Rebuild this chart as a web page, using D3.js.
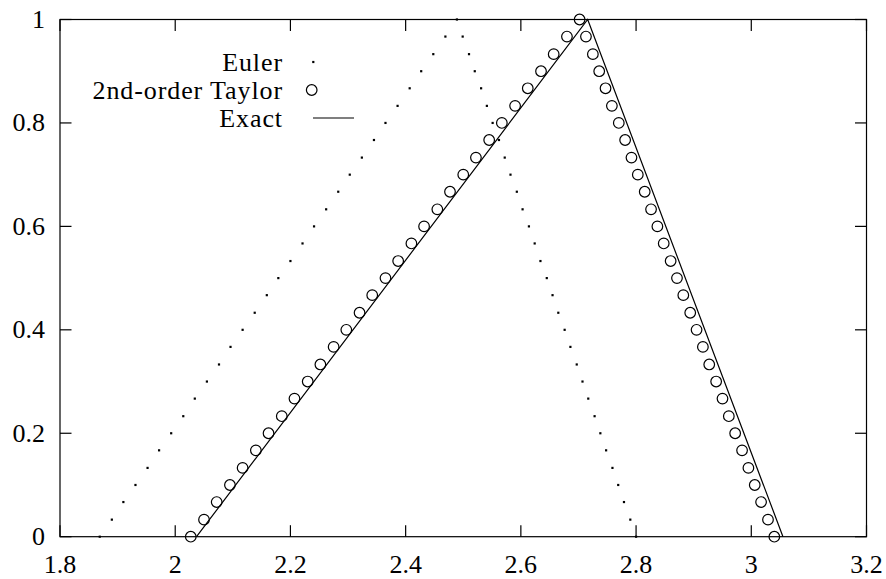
<!DOCTYPE html>
<html><head><meta charset="utf-8">
<script src="https://cdn.jsdelivr.net/npm/d3@7"></script>
<style>
html,body{margin:0;padding:0;background:#fff;}
</style></head>
<body>
<svg id="chart" width="886" height="579"></svg>
<script>
// ---- data ----
const xTicks = [1.8, 2, 2.2, 2.4, 2.6, 2.8, 3, 3.2];
const xTickLabels = ["1.8", "2", "2.2", "2.4", "2.6", "2.8", "3", "3.2"];
const yTicks = [0, 0.2, 0.4, 0.6, 0.8, 1];
const yTickLabels = ["0", "0.2", "0.4", "0.6", "0.8", "1"];
const legendLabels = ["Euler", "2nd-order Taylor", "Exact"];

// Euler method points (x values, y values)
const eulerX = [1.869,1.890,1.910,1.931,1.952,1.972,1.993,2.014,2.034,2.055,2.076,2.096,2.117,2.138,2.159,2.179,2.200,2.221,2.241,2.262,2.283,2.303,2.324,2.345,2.365,2.386,2.407,2.427,2.448,2.469,2.489,
  2.499,2.510,2.520,2.531,2.541,2.551,2.562,2.572,2.582,2.593,2.603,2.614,2.624,2.634,2.645,2.655,2.665,2.676,2.686,2.697,2.707,2.717,2.728,2.738,2.748,2.759,2.769,2.779,2.790,2.800];
const eulerY = [0,0.033,0.067,0.1,0.133,0.167,0.2,0.233,0.267,0.3,0.333,0.367,0.4,0.433,0.467,0.5,0.533,0.567,0.6,0.633,0.667,0.7,0.733,0.767,0.8,0.833,0.867,0.9,0.933,0.967,1,
  0.967,0.933,0.9,0.867,0.833,0.8,0.767,0.733,0.7,0.667,0.633,0.6,0.567,0.533,0.5,0.467,0.433,0.4,0.367,0.333,0.3,0.267,0.233,0.2,0.167,0.133,0.1,0.067,0.033,0];

// 2nd-order Taylor points
const taylorX = [2.027,2.050,2.072,2.095,2.117,2.140,2.162,2.185,2.207,2.230,2.252,2.275,2.297,2.320,2.342,2.365,2.387,2.410,2.432,2.455,2.477,2.500,2.522,2.545,2.567,2.590,2.612,2.635,2.657,2.680,2.702,
  2.713,2.725,2.736,2.747,2.758,2.770,2.781,2.792,2.803,2.815,2.826,2.837,2.848,2.860,2.871,2.882,2.894,2.905,2.916,2.927,2.939,2.950,2.961,2.972,2.984,2.995,3.006,3.017,3.029,3.040];
const taylorY = [0,0.033,0.067,0.1,0.133,0.167,0.2,0.233,0.267,0.3,0.333,0.367,0.4,0.433,0.467,0.5,0.533,0.567,0.6,0.633,0.667,0.7,0.733,0.767,0.8,0.833,0.867,0.9,0.933,0.967,1,
  0.967,0.933,0.9,0.867,0.833,0.8,0.767,0.733,0.7,0.667,0.633,0.6,0.567,0.533,0.5,0.467,0.433,0.4,0.367,0.333,0.3,0.267,0.233,0.2,0.167,0.133,0.1,0.067,0.033,0];

// Exact solution
const exactX = [2.037, 2.716, 3.055];
const exactY = [0, 1, 0];

// ---- layout ----
const FONT = "'Liberation Serif'";
const svg = d3.select("#chart");
const L = 60, R = 866.5, T = 19.5, B = 536.7;
const x = d3.scaleLinear().domain([1.8, 3.2]).range([L, R]);
const y = d3.scaleLinear().domain([0, 1]).range([B, T]);
const FS = 26;

// frame
svg.append("rect").attr("x", L).attr("y", T).attr("width", R - L).attr("height", B - T)
  .attr("fill", "none").attr("stroke", "#000").attr("stroke-width", 1.2);

const tickLen = 11.5;
// x ticks (bottom & top, inward)
xTicks.forEach((v, i) => {
  const px = x(v);
  svg.append("line").attr("x1", px).attr("x2", px).attr("y1", B).attr("y2", B - tickLen).attr("stroke", "#000").attr("stroke-width", 1.2);
  svg.append("line").attr("x1", px).attr("x2", px).attr("y1", T).attr("y2", T + tickLen).attr("stroke", "#000").attr("stroke-width", 1.2);
  svg.append("text").attr("x", px).attr("y", 573).attr("text-anchor", "middle")
    .style("font-family", FONT).attr("font-size", FS).attr("fill", "#000").text(xTickLabels[i]);
});
// y ticks (left & right, inward)
yTicks.forEach((v, i) => {
  const py = y(v);
  svg.append("line").attr("x1", L).attr("x2", L + tickLen).attr("y1", py).attr("y2", py).attr("stroke", "#000").attr("stroke-width", 1.2);
  svg.append("line").attr("x1", R).attr("x2", R - tickLen).attr("y1", py).attr("y2", py).attr("stroke", "#000").attr("stroke-width", 1.2);
  svg.append("text").attr("x", 45).attr("y", py + 8.5).attr("text-anchor", "end")
    .style("font-family", FONT).attr("font-size", FS).attr("fill", "#000").text(yTickLabels[i]);
});

// exact line
const exactData = exactX.map((v, i) => [v, exactY[i]]);
svg.append("path").datum(exactData)
  .attr("d", d3.line().x(d => x(d[0])).y(d => y(d[1])))
  .attr("fill", "none").attr("stroke", "#000").attr("stroke-width", 1.2);

// Taylor circles
const taylorData = taylorX.map((v, i) => [v, taylorY[i]]);
svg.append("g").selectAll("circle").data(taylorData).join("circle")
  .attr("cx", d => x(d[0])).attr("cy", d => y(d[1])).attr("r", 5.3)
  .attr("fill", "none").attr("stroke", "#000").attr("stroke-width", 1.2);

// Euler dots
const eulerData = eulerX.map((v, i) => [v, eulerY[i]]);
svg.append("g").selectAll("rect").data(eulerData).join("rect")
  .attr("x", d => x(d[0]) - 1.1).attr("y", d => y(d[1]) - 1.1).attr("width", 2.2).attr("height", 2.2)
  .attr("fill", "#000");

// legend
const lgX = 283, lgY0 = 62, lgDY = 28;
legendLabels.forEach((lab, i) => {
  svg.append("text").attr("x", lgX).attr("y", lgY0 + i * lgDY + 8.5).attr("text-anchor", "end")
    .style("font-family", FONT).style("letter-spacing", "0.9px").attr("font-size", FS).attr("fill", "#000").text(lab);
});
svg.append("rect").attr("x", 313.3 - 1.1).attr("y", lgY0 - 1.1).attr("width", 2.2).attr("height", 2.2).attr("fill", "#000");
svg.append("circle").attr("cx", 311.7).attr("cy", lgY0 + lgDY).attr("r", 5.3).attr("fill", "none").attr("stroke", "#000").attr("stroke-width", 1.2);
svg.append("line").attr("x1", 313).attr("x2", 354).attr("y1", lgY0 + 2 * lgDY).attr("y2", lgY0 + 2 * lgDY).attr("stroke", "#000").attr("stroke-width", 1.2);
</script>
</body></html>
